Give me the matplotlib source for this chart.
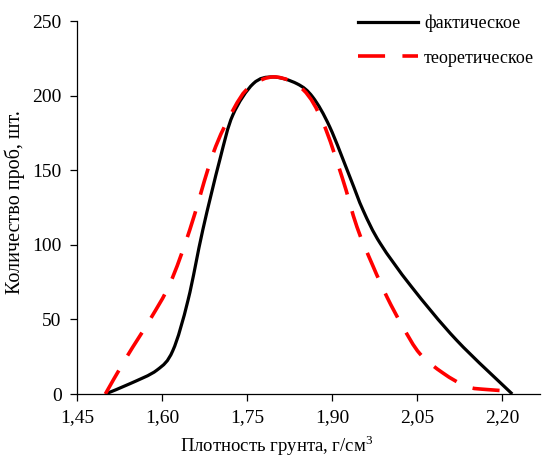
import numpy as np
import matplotlib
matplotlib.use("Agg")
import matplotlib.pyplot as plt
from matplotlib.ticker import FixedLocator
from matplotlib.path import Path
from matplotlib.patches import PathPatch

plt.rcParams['font.family'] = ['Liberation Serif', 'DejaVu Serif']
plt.rcParams['mathtext.fontset'] = 'custom'
plt.rcParams['mathtext.rm'] = 'Liberation Serif'

# фактическое
fact_x = [1.500, 1.544, 1.591, 1.619, 1.646, 1.672, 1.702, 1.725, 1.761,
          1.796, 1.838, 1.866, 1.896, 1.932, 1.955, 1.985, 2.040, 2.120, 2.218]
fact_y = [0, 7, 16, 29, 63, 110, 157, 187, 208,
          212.5, 208, 199, 179, 145, 123, 101, 72, 36, 0]

# теоретическое
theo_x = [1.500, 1.538, 1.579, 1.614, 1.649, 1.690, 1.725, 1.755, 1.800,
          1.849, 1.884, 1.918, 1.944, 1.972, 1.997, 2.025, 2.055, 2.096,
          2.138, 2.173, 2.215]
theo_y = [0, 25, 50, 74, 110, 161, 190, 206, 212.5,
          204, 182, 145, 112, 86, 65, 45, 27, 14,
          5, 3, 2]

x_ticks = [1.45, 1.60, 1.75, 1.90, 2.05, 2.20]
x_labels = ['1,45', '1,60', '1,75', '1,90', '2,05', '2,20']
y_ticks = [0, 50, 100, 150, 200, 250]


def smooth_path(ax, xs, ys):
    # Catmull-Rom through the points, drawn as cubic Bezier segments
    # in display space (like Excel "smoothed line")
    pts = ax.transData.transform(np.column_stack([xs, ys]))
    verts = [pts[0]]
    codes = [Path.MOVETO]
    n = len(pts)
    for i in range(n - 1):
        p0 = pts[max(i - 1, 0)]
        p1 = pts[i]
        p2 = pts[i + 1]
        p3 = pts[min(i + 2, n - 1)]
        c1 = p1 + (p2 - p0) / 6.0
        c2 = p2 - (p3 - p1) / 6.0
        verts += [c1, c2, p2]
        codes += [Path.CURVE4] * 3
    return Path(verts, codes)


fig = plt.figure(figsize=(5.48, 4.61), dpi=100)
ax = fig.add_axes([77 / 548, 1 - 394 / 461, 463 / 548, 373 / 461])

ax.set_xlim(1.45, 2.267)
ax.set_ylim(0, 250)
ax.xaxis.set_major_locator(FixedLocator(x_ticks))
ax.set_xticklabels(x_labels)
ax.yaxis.set_major_locator(FixedLocator(y_ticks))

fact_patch = PathPatch(smooth_path(ax, fact_x, fact_y), transform=None,
                       facecolor='none', edgecolor='black', lw=2.3)
theo_patch = PathPatch(smooth_path(ax, theo_x, theo_y), transform=None,
                       facecolor='none', edgecolor='red', lw=2.6,
                       linestyle=(0, (7.5, 4.8)))
ax.add_artist(fact_patch)
ax.add_artist(theo_patch)

# legend handles only
h1, = ax.plot([], [], color='black', lw=2.3, label='фактическое')
h2, = ax.plot([], [], color='red', lw=2.6, dashes=(7.5, 4.8),
              label='теоретическое')

for s in ['top', 'right']:
    ax.spines[s].set_visible(False)
ax.spines['left'].set_linewidth(0.9)
ax.spines['bottom'].set_linewidth(0.9)
ax.tick_params(direction='out', length=5, width=0.9, labelsize=14, pad=6)

fig.text(15 / 548, 1 - 202 / 461, 'Количество проб, шт.', rotation=90,
         ha='center', va='center', fontsize=14.5)
fig.text(277 / 548, 1 - 446 / 461, 'Плотность грунта, г/см$^3$',
         ha='center', va='center', fontsize=13.5)

ax.legend(handles=[h1, h2], loc='upper left',
          bbox_to_anchor=(265 / 463, 1.06), frameon=False,
          fontsize=13, handlelength=3.3, handletextpad=0.35, labelspacing=0.95)

fig.savefig('out.png', dpi=100)
